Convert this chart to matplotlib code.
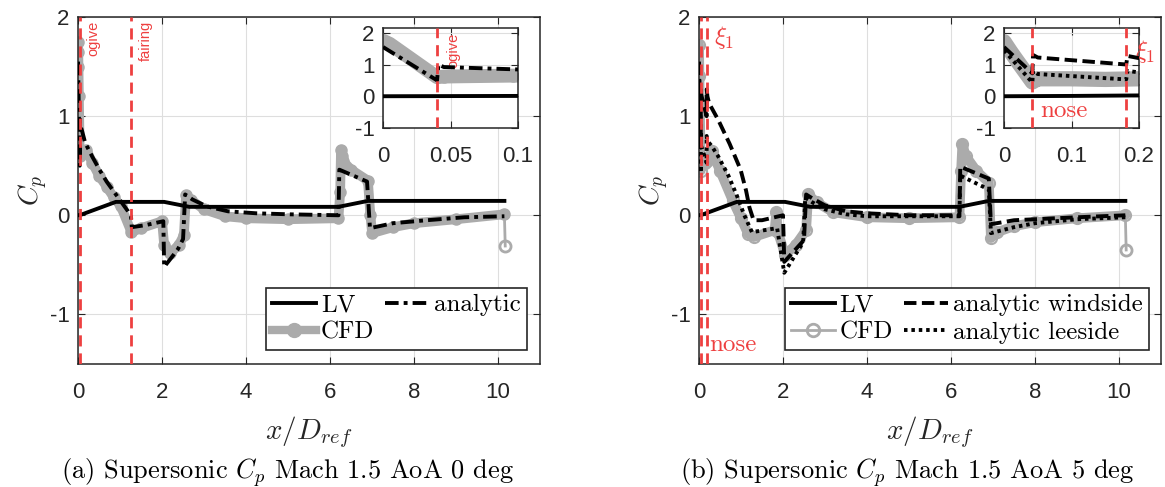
import matplotlib
matplotlib.use("Agg")
import matplotlib.pyplot as plt
from matplotlib.lines import Line2D

plt.rcParams['font.family'] = ['Liberation Sans', 'DejaVu Sans']
plt.rcParams['mathtext.fontset'] = 'cm'
plt.rcParams['axes.unicode_minus'] = False

# ---- data ----
# LV (same in both panels)
lv_x = [0.0, 0.1, 0.9, 2.05, 2.65, 6.2, 6.9, 10.15]
lv_y = [0.0, 0.01, 0.135, 0.135, 0.085, 0.085, 0.145, 0.145]

# (a) AoA 0 deg
ana_x = [0.0, 0.04, 0.041, 0.045, 0.096, 0.17, 0.34, 0.51, 0.68, 0.85, 1.02, 1.19, 1.26, 1.28,
         1.6, 2.03, 2.05, 2.2, 2.38, 2.5, 2.55, 2.72, 3.06, 3.57, 4.24, 5.0, 6.2, 6.22, 6.88,
         6.95, 7.5, 8.3, 9.2, 10.15]
ana_y = [1.55, 0.5, 1.0, 0.92, 0.85, 0.73, 0.59, 0.46, 0.34, 0.24, 0.14, 0.04, -0.01, -0.12,
         -0.1, -0.06, -0.52, -0.44, -0.34, -0.24, 0.21, 0.16, 0.09, 0.04, 0.02, 0.01, 0.0, 0.46, 0.34,
         -0.13, -0.08, -0.05, -0.02, -0.01]

cfd_a_x = [0.0, 0.005, 0.01, 0.02, 0.04, 0.045, 0.06, 0.096, 0.2, 0.34, 0.5, 0.68, 0.85, 1.02,
           1.27, 1.5, 2.0, 2.05, 2.2, 2.4, 2.52, 2.57, 2.7, 3.0, 3.5, 4.0, 5.0, 6.2, 6.24, 6.26,
           6.28, 6.3, 6.5, 6.9, 6.96, 7.0, 7.5, 8.0, 9.0, 10.15]
cfd_a_y = [1.75, 1.65, 1.5, 1.2, 0.6, 0.62, 0.63, 0.65, 0.66, 0.53, 0.4, 0.29, 0.18, 0.09,
           -0.17, -0.13, -0.06, -0.3, -0.38, -0.3, -0.2, 0.2, 0.15, 0.06, -0.01, -0.03, -0.04, -0.03,
           0.23, 0.66, 0.6, 0.55, 0.46, 0.35, 0.0, -0.18, -0.12, -0.08, -0.04, 0.01]
cfd_a_tail_x = [10.15, 10.17]
cfd_a_tail_y = [0.01, -0.31]

# (b) AoA 5 deg
ws_x = [0.0, 0.042, 0.043, 0.05, 0.181, 0.183, 0.2, 0.24, 0.46, 0.73, 0.99, 1.12, 1.2, 1.3,
        1.5, 2.0, 2.03, 2.5, 2.55, 2.7, 3.0, 3.5, 4.0, 5.0, 6.2, 6.22, 6.9, 6.95, 7.5, 8.0,
        9.0, 10.15]
ws_y = [1.55, 0.72, 1.3, 1.22, 1.0, 1.27, 1.2, 1.13, 0.96, 0.72, 0.46, 0.25, 0.08, -0.05,
        -0.05, 0.0, -0.47, -0.25, 0.21, 0.17, 0.1, 0.04, 0.02, 0.0, 0.0, 0.49, 0.37, -0.09, -0.05,
        -0.04, -0.02, 0.0]

ls_x = [0.0, 0.042, 0.043, 0.05, 0.181, 0.183, 0.2, 0.3, 0.45, 0.7, 0.9, 1.08, 1.26, 1.86,
        2.03, 2.48, 2.53, 2.7, 3.0, 3.5, 4.0, 6.2, 6.22, 6.9, 6.95, 7.5, 8.0, 9.0, 10.15]
ls_y = [1.45, 0.43, 0.8, 0.7, 0.53, 0.8, 0.75, 0.7, 0.6, 0.4, 0.2, 0.0, -0.17, -0.13,
        -0.58, -0.27, 0.18, 0.13, 0.06, 0.01, -0.01, -0.01, 0.4, 0.26, -0.18, -0.12, -0.08, -0.04, -0.02]

cfd_b_x = [0.0, 0.01, 0.02, 0.042, 0.05, 0.1, 0.15, 0.2, 0.3, 0.5, 0.8, 1.0, 1.17, 1.3, 1.8,
           1.84, 1.88, 2.05, 2.3, 2.55, 2.6, 2.8, 3.2, 4.0, 5.0, 6.2, 6.24, 6.27, 6.35, 6.6, 6.9,
           6.95, 7.1, 7.5, 8.0, 9.0, 10.15]
cfd_b_y = [1.72, 1.4, 1.1, 0.45, 0.55, 0.55, 0.53, 0.55, 0.65, 0.45, 0.15, -0.03, -0.19, -0.22, -0.15,
           0.03, -0.17, -0.4, -0.3, -0.15, 0.21, 0.13, 0.03, -0.02, -0.03, -0.02, 0.45, 0.72, 0.6,
           0.45, 0.33, -0.23, -0.17, -0.11, -0.07, -0.03, 0.0]
cfd_b_tail_x = [10.15, 10.17]
cfd_b_tail_y = [0.0, -0.35]

# section markers
marks_a = [0.04, 1.27]
marks_b = [0.042, 0.181]

gray = '#ababab'
red = '#ee4040'
dashdot = (0, (3.5, 1.3, 1.0, 1.3))
dashed = (0, (3.2, 1.4))
dotted = (0, (0.9, 1.0))
lw_k = 2.8


def style(ax, xt, yt, xl, yl):
    ax.set_xlim(*xl)
    ax.set_ylim(*yl)
    ax.set_xticks(xt)
    ax.set_yticks(yt)
    ax.grid(True, color='#dedede', lw=0.8)
    ax.set_axisbelow(True)
    ax.tick_params(direction='in', length=5, top=True, right=True, labelsize=16,
                   colors='#262626')
    ax.tick_params(axis='x', pad=13)
    ax.tick_params(axis='y', pad=6)
    for s in ax.spines.values():
        s.set_color('#262626')
        s.set_linewidth(1.1)


def legend(ax, handles, labels, right):
    leg = ax.legend(handles, labels, ncol=2, loc='lower right', bbox_to_anchor=(right, 0.04),
                    prop=dict(family='cmr10', size=18), fancybox=False, framealpha=1,
                    edgecolor='#262626', handlelength=1.75, handletextpad=0.2,
                    columnspacing=0.45, borderpad=0.25, labelspacing=0.2, borderaxespad=0)
    leg.get_frame().set_linewidth(1.2)


fig = plt.figure(figsize=(11.65, 4.87), dpi=100)

ax_a = fig.add_axes([0.0670, 0.2526, 0.3966, 0.7125])
ax_b = fig.add_axes([0.6000, 0.2526, 0.3966, 0.7125])
in_a = fig.add_axes([0.3288, 0.7372, 0.1159, 0.2053])
in_b = fig.add_axes([0.8618, 0.7372, 0.1159, 0.2053])

# ---- panel (a) ----
for ax, band in ((ax_a, 7), (in_a, 10)):
    ax.plot(cfd_a_x, cfd_a_y, color=gray, lw=band, marker='o', ms=8, mfc=gray, mec=gray,
            solid_joinstyle='round', solid_capstyle='round', zorder=2)
    ax.plot(cfd_a_tail_x, cfd_a_tail_y, color=gray, lw=2, marker='o', ms=8, mfc='none',
            mec=gray, mew=2, markevery=[1], zorder=2)
    ax.plot(lv_x, lv_y, color='k', lw=lw_k, zorder=3)
    ax.plot(ana_x, ana_y, color='k', lw=lw_k, ls=dashdot, zorder=4)
    for m in marks_a:
        ax.axvline(m, color=red, lw=2, ls=(0, (4, 2.5)), zorder=5)

style(ax_a, range(0, 11, 2), [-1, 0, 1, 2], (0, 11), (-1.5, 2))
style(in_a, [0, 0.05, 0.1], [-1, 0, 1, 2], (0, 0.096), (-1, 2.15))
in_a.set_xticklabels(['0', '0.05', '0.1'])

ax_a.text(0.36, 1.96, 'ogive', color=red, rotation=90, ha='center', va='top', fontsize=10.5)
ax_a.text(1.61, 1.96, 'fairing', color=red, rotation=90, ha='center', va='top', fontsize=10.5)
in_a.text(0.052, 2.0, 'ogive', color=red, rotation=90, ha='center', va='top', fontsize=10.5)

h_lv = Line2D([], [], color='k', lw=lw_k)
h_cfd_a = Line2D([], [], color=gray, lw=6, marker='o', ms=10, mfc=gray, mec=gray)
h_ana = Line2D([], [], color='k', lw=lw_k, ls=dashdot)
legend(ax_a, [h_lv, h_cfd_a, h_ana], ['LV', 'CFD', 'analytic'], 0.972)

# ---- panel (b) ----
for ax, band in ((ax_b, 7), (in_b, 11)):
    ax.plot(cfd_b_x, cfd_b_y, color=gray, lw=band, marker='o', ms=8, mfc='none', mec=gray,
            mew=1.5, solid_joinstyle='round', solid_capstyle='round', zorder=2)
    ax.plot(cfd_b_tail_x, cfd_b_tail_y, color=gray, lw=2, marker='o', ms=8, mfc='none',
            mec=gray, mew=2, markevery=[1], zorder=2)
    ax.plot(lv_x, lv_y, color='k', lw=lw_k, zorder=3)
    ax.plot(ws_x, ws_y, color='k', lw=lw_k, ls=dashed, zorder=4)
    ax.plot(ls_x, ls_y, color='k', lw=lw_k, ls=dotted, zorder=4)
    for m in marks_b:
        ax.axvline(m, color=red, lw=2, ls=(0, (4, 2.5)), zorder=5)

style(ax_b, range(0, 11, 2), [-1, 0, 1, 2], (0, 11), (-1.5, 2))
style(in_b, [0, 0.1, 0.2], [-1, 0, 1, 2], (0, 0.2), (-1, 2.15))
in_b.set_xticklabels(['0', '0.1', '0.2'])

ax_b.text(0.36, 1.79, r'$\xi_1$', color=red, ha='left', va='center', fontsize=18)
ax_b.text(0.24, -1.31, 'nose', color=red, ha='left', va='center', fontsize=18, family='cmr10')
in_b.text(0.053, -0.45, 'nose', color=red, ha='left', va='center', fontsize=18, family='cmr10')
in_b.text(0.194, 1.4, r'$\xi_1$', color=red, ha='left', va='center', fontsize=18, clip_on=False)

h_cfd_b = Line2D([], [], color=gray, lw=2, marker='o', ms=9, mfc='none', mec=gray, mew=2)
h_ws = Line2D([], [], color='k', lw=lw_k, ls=dashed)
h_ls = Line2D([], [], color='k', lw=lw_k, ls=dotted)
legend(ax_b, [h_lv, h_cfd_b, h_ws, h_ls],
       ['LV', 'CFD', 'analytic windside', 'analytic leeside'], 0.974)

for ax in (ax_a, ax_b):
    ax.set_ylabel('$C_p$', fontsize=20, color='#262626')
    ax.yaxis.set_label_coords(-0.06, 0.5)
    ax.set_xlabel('$x/D_{ref}$', fontsize=21, color='#262626')
    ax.xaxis.set_label_coords(0.5, -0.145)

fig.text(0.247, 0.03, '(a) Supersonic $C_p$ Mach 1.5 AoA 0 deg', ha='center', va='center',
         fontsize=19, family='cmr10')
fig.text(0.779, 0.03, '(b) Supersonic $C_p$ Mach 1.5 AoA 5 deg', ha='center', va='center',
         fontsize=19, family='cmr10')

fig.savefig('out.png', dpi=100)
